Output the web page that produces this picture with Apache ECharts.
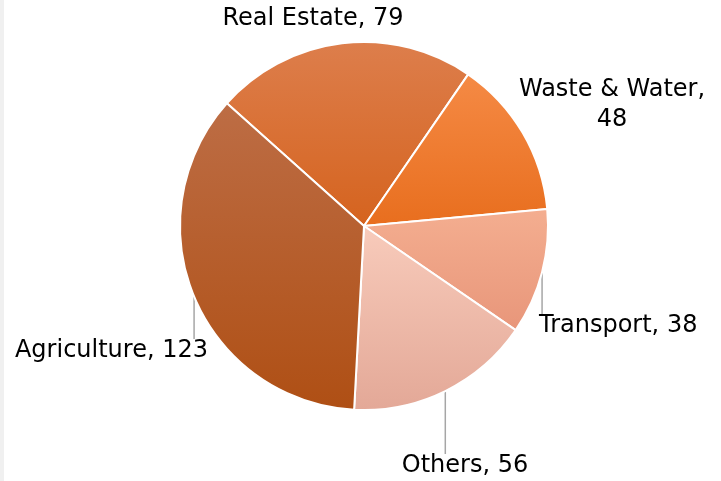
<!DOCTYPE html>
<html>
<head>
<meta charset="utf-8">
<script src="https://cdn.jsdelivr.net/npm/echarts@6/dist/echarts.min.js"></script>
<style>
    html, body { margin: 0; padding: 0; }
    body { background: linear-gradient(to right, #f0f0f0 0, #f0f0f0 4px, #ffffff 4px); }
    #main { width: 721px; height: 481px; }
</style>
</head>
<body>
<div id="main"></div>
<script>
'use strict';
// 数据
var categories = ['Real Estate', 'Waste & Water', 'Transport', 'Others', 'Agriculture'];
var values = [79, 48, 38, 56, 123];
// 每个扇形的渐变颜色 (上 -> 下)
var topColors = ['#dd7e4c', '#f58a45', '#f4ae90', '#f8cbbb', '#bd6d45'];
var bottomColors = ['#d5631e', '#e86e1e', '#e8967a', '#e3a897', '#af4f14'];

var center = [364, 226];
var radius = 184;
var startAngle = 138.2;

// 标签位置
var labelPos = [
    { x: 313, y: 19, align: 'center', line: false },
    { x: 612, y: 105, align: 'center', line: false },
    { x: 539, y: 326, align: 'left', line: true },
    { x: 465, y: 466, align: 'center', line: true },
    { x: 208, y: 351, align: 'right', line: true }
];

var total = values.reduce(function (a, b) { return a + b; }, 0);

function midPoint(idx) {
    var acc = 0;
    for (var i = 0; i < idx; i++) acc += values[i];
    var mid = (acc + values[idx] / 2) / total * 360;
    var a = (startAngle - mid) * Math.PI / 180;
    return [center[0] + radius * Math.cos(a), center[1] - radius * Math.sin(a)];
}

var chart = echarts.init(document.getElementById('main'));
var option = {
    animation: false,
    series: [{
        type: 'pie',
        center: center,
        radius: radius,
        startAngle: startAngle,
        clockwise: true,
        data: categories.map(function (name, i) {
            return {
                name: name,
                value: values[i],
                itemStyle: {
                    color: new echarts.graphic.LinearGradient(0, 0, 0, 1, [
                        { offset: 0, color: topColors[i] },
                        { offset: 1, color: bottomColors[i] }
                    ])
                },
                labelLine: { show: labelPos[i].line }
            };
        }),
        itemStyle: {
            borderColor: '#ffffff',
            borderWidth: 2
        },
        label: {
            show: true,
            position: 'outside',
            overflow: 'none',
            color: '#000000',
            fontSize: 24,
            lineHeight: 30,
            fontFamily: '"DejaVu Sans", sans-serif',
            formatter: function (p) {
                if (p.name === 'Waste & Water') return p.name + ',\n' + p.value;
                return p.name + ', ' + p.value;
            }
        },
        labelLine: {
            lineStyle: { color: '#a6a6a6', width: 1.5 }
        },
        labelLayout: function (params) {
            var lp = labelPos[params.dataIndex];
            var res = {
                x: lp.x,
                y: lp.y,
                align: lp.align,
                verticalAlign: 'middle'
            };
            if (lp.line) {
                var p0 = midPoint(params.dataIndex);
                var endY = lp.y - 12;
                res.labelLinePoints = [p0, [p0[0], endY], [p0[0], endY]];
            }
            return res;
        }
    }]
};
chart.setOption(option);
</script>
</body>
</html>
